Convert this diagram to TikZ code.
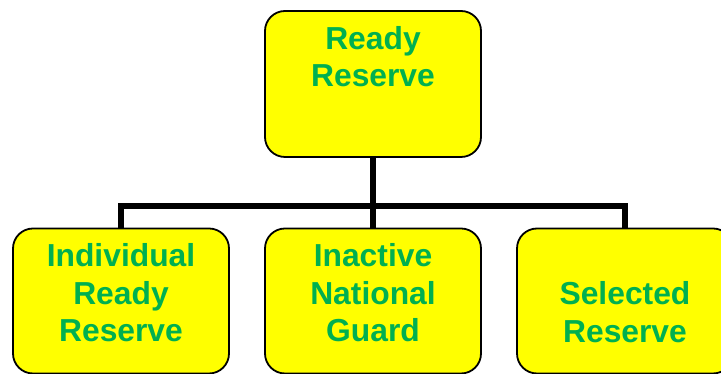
\documentclass[tikz,border=0pt]{standalone}
\usepackage{fontspec}
\setmainfont{Liberation Sans}
\usetikzlibrary{backgrounds}
\definecolor{boxyellow}{HTML}{FFFF00}
\definecolor{labelgreen}{HTML}{00B050}
\begin{document}
\begin{tikzpicture}[x=1pt,y=1pt,
  unitbox/.style={draw=black, line width=1.8pt, fill=boxyellow, rounded corners=20pt,
    minimum width=216pt, minimum height=146pt, inner sep=0pt},
  unitlabel/.style={anchor=north, inner sep=0pt, align=center, text=labelgreen,
    font=\fontsize{31.8}{37.5}\selectfont\bfseries},
  link/.style={line width=6pt, black}]
\useasboundingbox (0,0) rectangle (721,374);
\clip (0,0) rectangle (721,374);
% boxes
\node[unitbox] (ready) at (373,290) {};
\node[unitbox, minimum height=145pt] (irr) at (121,73) {};
\node[unitbox, minimum height=145pt] (ing) at (373,73) {};
\node[unitbox, minimum height=145pt] (sel) at (625,73) {};
% labels
\node[unitlabel] (readyt) at ([yshift=-16pt]ready.north) {Ready\\Reserve};
\node[unitlabel] (irrt) at ([yshift=-16pt]irr.north) {Individual\\Ready\\Reserve};
\node[unitlabel] (ingt) at ([yshift=-16pt]ing.north) {Inactive\\National\\Guard};
\node[unitlabel] (selt) at ([yshift=-54pt]sel.north) {Selected\\Reserve};
% connectors
\begin{scope}[on background layer]
  \draw[link] (ready.south) -- ++(0,-48) coordinate (bus);
  \draw[link] (irr.north) |- (bus) -| (sel.north);
  \draw[link] (bus) -- (ing.north);
\end{scope}
\end{tikzpicture}
\end{document}
